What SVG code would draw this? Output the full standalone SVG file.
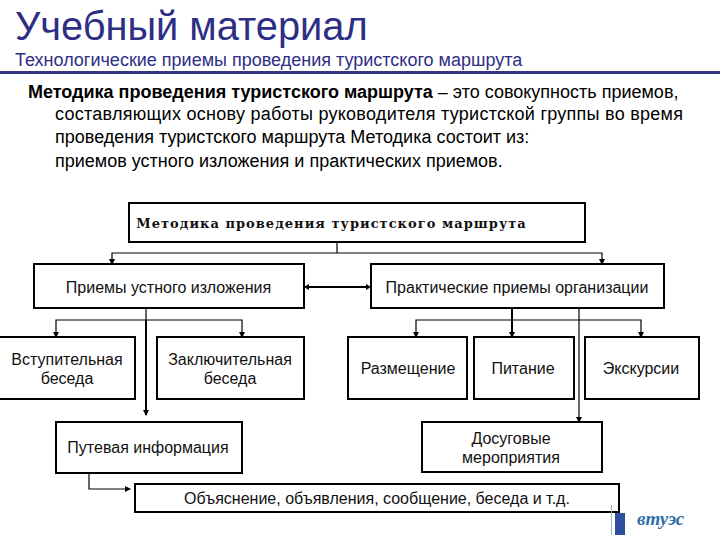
<svg xmlns="http://www.w3.org/2000/svg" width="720" height="540" viewBox="0 0 720 540">
<style>
text{font-family:"Liberation Sans",Arial,sans-serif;fill:#000}
.t{fill:#2e2e85}
.b rect{fill:#fff;stroke:#000;stroke-width:2}
.b text{font-size:16px;text-anchor:middle;fill:#111}
.p{font-size:18px}
.c path{fill:none;stroke:#000;stroke-width:1.2}
.c .h{stroke-width:2}
.c .f{fill:#000;stroke:none}
</style>
<defs><marker id="a" markerUnits="userSpaceOnUse" markerWidth="6" markerHeight="6" refX="5" refY="3" orient="auto"><path d="M0 0L6 3L0 6z" fill="#000"/></marker></defs>
<rect width="720" height="540" fill="#fff"/>
<text class="t" x="15" y="40" font-size="39.800">Учебный материал</text>
<text class="t" x="15" y="66" font-size="18">Технологические приемы проведения туристского маршрута</text>
<rect x="0" y="71" width="720" height="3" fill="#35357f"/>
<text class="p" x="28" y="98"><tspan font-weight="bold">Методика проведения туристского маршрута</tspan> – это совокупность приемов,</text>
<text class="p" x="55" y="120" textLength="628">составляющих основу работы руководителя туристской группы во время</text>
<text class="p" x="55" y="143">проведения туристского маршрута Методика состоит из:</text>
<text class="p" x="55" y="167">приемов устного изложения и практических приемов.</text>

<g class="c" id="connectors">
<path d="M337 242V253"/>
<path d="M337 253H112V264" marker-end="url(#a)"/>
<path d="M337 253H602V264" marker-end="url(#a)"/>
<path class="h" d="M306 287H369"/>
<path class="f" d="M304 287l5-3v6z"/>
<path class="f" d="M371 287l-5-3v6z"/>
<path d="M146 308V320"/>
<path class="h" d="M146 320V415" marker-end="url(#a)"/>
<path d="M146 320H56V337" marker-end="url(#a)"/>
<path d="M146 320H242V337" marker-end="url(#a)"/>
<path class="h" d="M512 308V337" marker-end="url(#a)"/>
<path d="M512 320H416V337" marker-end="url(#a)"/>
<path d="M512 320H641V337" marker-end="url(#a)"/>
<path d="M579 308V422" marker-end="url(#a)"/>
<path d="M89 473V489H130" marker-end="url(#a)"/>
</g>

<g class="b" id="n-root"><rect x="129" y="203" width="456" height="39"/><text x="331.500" y="227.500" style="font-family:'DejaVu Serif',serif;font-size:13px;font-weight:bold;letter-spacing:1.02px">Методика проведения туристского маршрута</text></g>
<g class="b" id="n-oral"><rect x="34" y="264" width="270" height="44"/><text x="168.500" y="293">Приемы устного изложения</text></g>
<g class="b" id="n-practical"><rect x="371" y="264" width="293" height="44"/><text x="517" y="293">Практические приемы организации</text></g>
<g class="b" id="n-intro"><rect x="-1" y="337" width="136" height="62"/><text x="67" y="365">Вступительная</text><text x="67" y="384">беседа</text></g>
<g class="b" id="n-final"><rect x="157" y="337" width="147" height="62"/><text x="230" y="365">Заключительная</text><text x="230" y="384">беседа</text></g>
<g class="b" id="n-place"><rect x="348" y="337" width="119" height="62"/><text x="408" y="374">Размещение</text></g>
<g class="b" id="n-food"><rect x="474" y="337" width="100" height="62"/><text x="523" y="374">Питание</text></g>
<g class="b" id="n-tour"><rect x="585" y="337" width="114" height="62"/><text x="641" y="374">Экскурсии</text></g>
<g class="b" id="n-route"><rect x="56" y="422" width="186" height="51"/><text x="148" y="453">Путевая информация</text></g>
<g class="b" id="n-leisure"><rect x="422" y="422" width="180" height="50"/><text x="511" y="444">Досуговые</text><text x="511" y="463">мероприятия</text></g>
<g class="b" id="n-expl"><rect x="135" y="484" width="484" height="28"/><text x="377" y="504">Объяснение, объявления, сообщение, беседа и т.д.</text></g>

<g id="logo">
<rect x="611" y="505" width="1" height="30" fill="#9fb4cf"/>
<rect x="615" y="513" width="10" height="22" fill="#2d4f9e"/>
<text x="637" y="525" font-size="19" font-style="italic" font-weight="bold" style="font-family:'Liberation Serif',serif;fill:#2f6fa8">втуэс</text>
</g>
</svg>
